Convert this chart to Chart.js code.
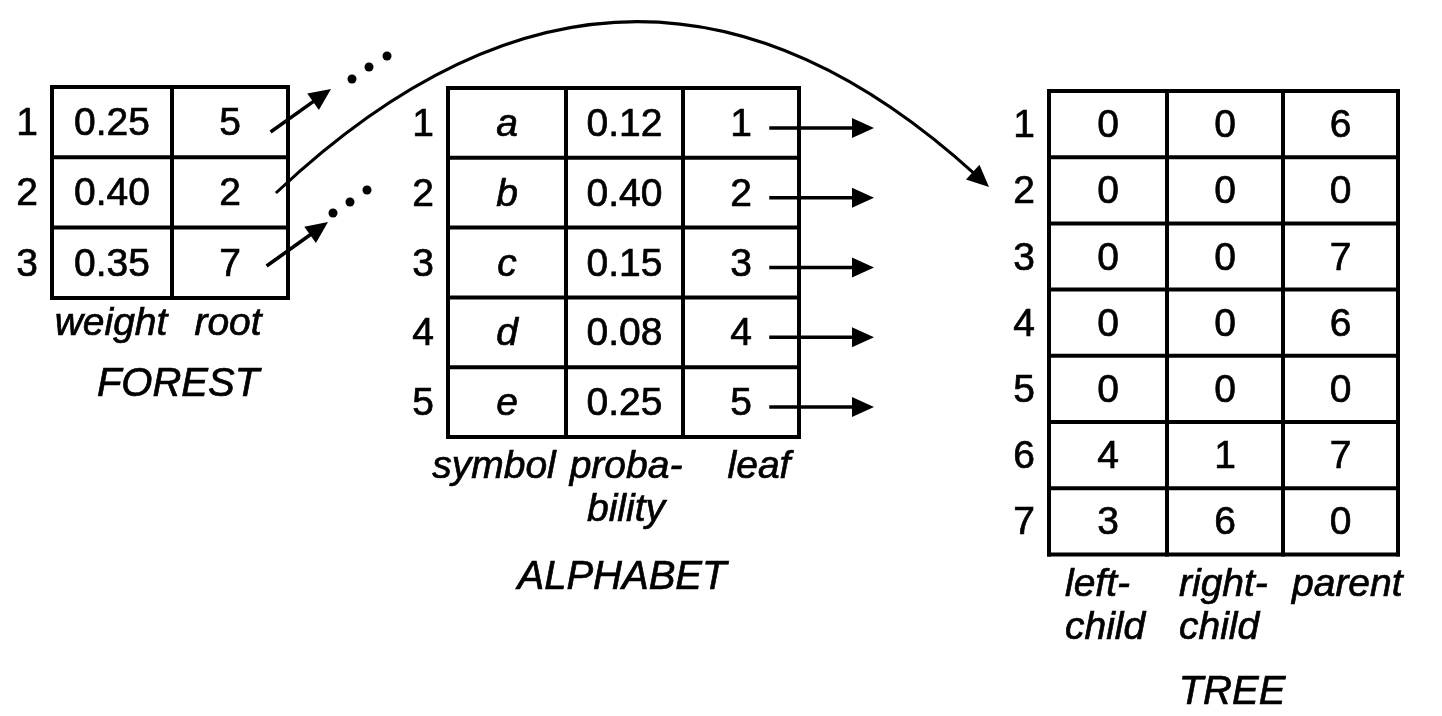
<!DOCTYPE html>
<html>
<head>
<meta charset="utf-8">
<script src="https://cdn.jsdelivr.net/npm/chart.js@4/dist/chart.umd.min.js"></script>
<style>
  html, body { margin: 0; padding: 0; background: #fff; }
  #wrap { width: 1442px; height: 716px; }
</style>
</head>
<body>
<div id="wrap"><canvas id="diagram" width="1442" height="716"></canvas></div>
<script>
// --- table contents ---
const tableTitles = ['FOREST', 'ALPHABET', 'TREE'];

const forestIndex = ['1', '2', '3'];
const forestWeight = ['0.25', '0.40', '0.35'];
const forestRoot = ['5', '2', '7'];
const forestHeaders = [['weight'], ['root']];

const alphabetIndex = ['1', '2', '3', '4', '5'];
const alphabetSymbol = ['a', 'b', 'c', 'd', 'e'];
const alphabetProbability = ['0.12', '0.40', '0.15', '0.08', '0.25'];
const alphabetLeaf = ['1', '2', '3', '4', '5'];
const alphabetHeaders = [['symbol'], ['proba-', 'bility'], ['leaf']];

const treeIndex = ['1', '2', '3', '4', '5', '6', '7'];
const treeLeftChild = ['0', '0', '0', '0', '0', '4', '3'];
const treeRightChild = ['0', '0', '0', '0', '0', '1', '6'];
const treeParent = ['6', '0', '7', '6', '0', '7', '0'];
const treeHeaders = [['left-', 'child'], ['right-', 'child'], ['parent']];

// --- layout (in axis units, the axes span the whole canvas) ---
const FONT = '"Liberation Sans", Arial, Helvetica, sans-serif';
const SIZE = 39;

// header anchors: [x, align] per column
const tables = [
  { cols: [52, 172, 288], top: 87, rowH: 70.3, index: forestIndex,
    columns: [forestWeight, forestRoot], italicCol: -1,
    headers: forestHeaders, headerAt: [[111, 'center'], [228, 'center']], headerY: 335,
    title: tableTitles[0], titleX: 178, titleY: 396 },
  { cols: [448, 566, 683, 799], top: 88, rowH: 69.8, index: alphabetIndex,
    columns: [alphabetSymbol, alphabetProbability, alphabetLeaf], italicCol: 0,
    headers: alphabetHeaders, headerAt: [[494, 'center'], [626, 'center'], [759, 'center']], headerY: 478,
    title: tableTitles[1], titleX: 622, titleY: 589 },
  { cols: [1049, 1167, 1283, 1398], top: 91, rowH: 66.2, index: treeIndex,
    columns: [treeLeftChild, treeRightChild, treeParent], italicCol: -1,
    headers: treeHeaders, headerAt: [[1065, 'left'], [1179, 'left'], [1292, 'left']], headerY: 596,
    title: tableTitles[2], titleX: 1232, titleY: 704 }
];

const diagramPlugin = {
  id: 'diagram',
  beforeDraw(chart) {
    const c = chart.ctx;
    c.save();
    c.fillStyle = '#fff';
    c.fillRect(0, 0, chart.width, chart.height);
    c.restore();
  },
  afterDatasetsDraw(chart) {
    const c = chart.ctx;
    const sx = chart.scales.x, sy = chart.scales.y;
    const X = v => sx.getPixelForValue(v);
    const Y = v => sy.getPixelForValue(v);

    function line(x1, y1, x2, y2, w) {
      c.lineWidth = w;
      c.beginPath();
      c.moveTo(X(x1), Y(y1));
      c.lineTo(X(x2), Y(y2));
      c.stroke();
    }
    function head(tx, ty, ang, len, half) {
      const x = X(tx), y = Y(ty);
      c.beginPath();
      c.moveTo(x, y);
      c.lineTo(x - len * Math.cos(ang) + half * Math.sin(ang), y - len * Math.sin(ang) - half * Math.cos(ang));
      c.lineTo(x - len * Math.cos(ang) - half * Math.sin(ang), y - len * Math.sin(ang) + half * Math.cos(ang));
      c.closePath();
      c.fill();
    }
    function arrow(x1, y1, x2, y2, w) {
      const ang = Math.atan2(Y(y2) - Y(y1), X(x2) - X(x1));
      const len = 22;
      line(x1, y1, x2 - (len - 4) * Math.cos(ang), y2 - (len - 4) * Math.sin(ang), w);
      head(x2, y2, ang, len, 10);
    }
    function dots(pts) {
      pts.forEach(p => {
        c.beginPath();
        c.arc(X(p[0]), Y(p[1]), 4.5, 0, Math.PI * 2);
        c.fill();
      });
    }
    // scanned print looks a bit heavier than plain Arial
    function text(s, x, y) {
      c.fillText(s, x, y);
      c.strokeText(s, x, y);
    }

    c.save();
    c.strokeStyle = '#000';
    c.fillStyle = '#000';
    c.lineCap = 'square';

    tables.forEach(t => {
      const n = t.index.length;
      const bottom = t.top + t.rowH * n;
      // grid
      for (let r = 0; r <= n; r++) {
        const yy = t.top + r * t.rowH;
        line(t.cols[0], yy, t.cols[t.cols.length - 1], yy, 4);
      }
      t.cols.forEach(xx => line(xx, t.top, xx, bottom, 4));

      c.lineWidth = 0.7;
      c.textBaseline = 'alphabetic';
      // cell texts
      for (let r = 0; r < n; r++) {
        const base = Y(t.top + (r + 0.5) * t.rowH) + 13;
        c.font = SIZE + 'px ' + FONT;
        c.textAlign = 'right';
        text(t.index[r], X(t.cols[0] - 14), base);
        c.textAlign = 'center';
        t.columns.forEach((col, k) => {
          c.font = (k === t.italicCol ? 'italic ' : '') + SIZE + 'px ' + FONT;
          const cx = (t.cols[k] + t.cols[k + 1]) / 2;
          text(col[r], X(cx), base);
        });
      }

      // column headers and title
      c.font = 'italic ' + SIZE + 'px ' + FONT;
      t.headers.forEach((lines, k) => {
        const [hx, align] = t.headerAt[k];
        c.textAlign = align;
        lines.forEach((s, i) => text(s, X(hx), Y(t.headerY + i * 43)));
      });
      c.textAlign = 'center';
      c.font = 'italic ' + (SIZE + 1) + 'px ' + FONT;
      text(t.title, X(t.titleX), Y(t.titleY));
    });

    // forest roots -> other trees (elided)
    arrow(272, 131, 331, 89, 3.5);
    arrow(268, 265, 328, 222, 3.5);
    dots([[352, 79], [369, 67], [387, 56]]);
    dots([[333, 213], [350, 202], [367, 190]]);

    // forest root 2 -> tree node 2
    const p0 = [277, 192], pc = [630, -140], p1 = [989, 187];
    c.lineWidth = 3;
    c.beginPath();
    c.moveTo(X(p0[0]), Y(p0[1]));
    const endAng = Math.atan2(Y(p1[1]) - Y(pc[1]), X(p1[0]) - X(pc[0]));
    c.quadraticCurveTo(X(pc[0]), Y(pc[1]), X(p1[0]) - 18 * Math.cos(endAng), Y(p1[1]) - 18 * Math.sin(endAng));
    c.stroke();
    head(p1[0], p1[1], endAng, 22, 10);

    // alphabet leaves -> tree leaves
    const at = tables[1];
    for (let r = 0; r < alphabetLeaf.length; r++) {
      const yy = at.top + (r + 0.5) * at.rowH + 5;
      arrow(771, yy, 874, yy, 3.5);
    }
    c.restore();
  }
};

new Chart(document.getElementById('diagram'), {
  type: 'scatter',
  data: { datasets: [] },
  options: {
    responsive: false,
    animation: false,
    devicePixelRatio: 1,
    layout: { padding: 0 },
    plugins: { legend: { display: false }, tooltip: { enabled: false } },
    scales: {
      x: { type: 'linear', min: 0, max: 1442, display: false },
      y: { type: 'linear', min: 0, max: 716, reverse: true, display: false }
    }
  },
  plugins: [diagramPlugin]
});
</script>
</body>
</html>
